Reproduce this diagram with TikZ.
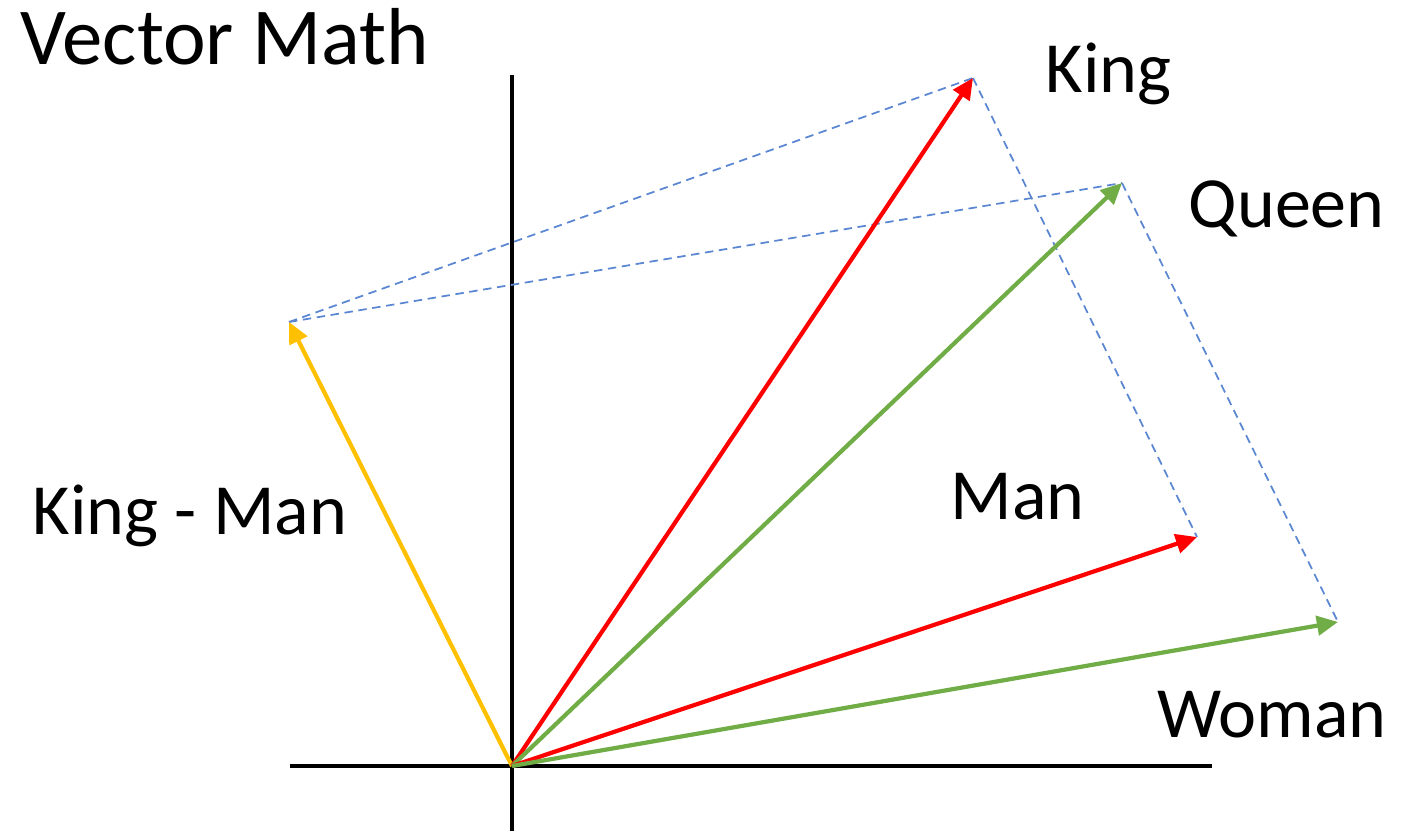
\documentclass[tikz,border=0pt]{standalone}
\usepackage{fontspec}
\setmainfont{Carlito}
\usetikzlibrary{arrows.meta}
\definecolor{vred}{RGB}{255,0,0}
\definecolor{vgreen}{RGB}{112,173,71}
\definecolor{vgold}{RGB}{255,192,0}
\definecolor{vblue}{RGB}{91,135,210}
\tikzset{
	vec/.style = {line width=1.2pt, -{Triangle[length=6pt, width=5.5pt]}},
	proj/.style = {vblue, line width=0.5pt, dash pattern=on 2.4pt off 1.6pt},
	lbl/.style = {inner sep=0pt, anchor=base west, font=\fontsize{20.5}{21}\selectfont}
}
\begin{document}
\begin{tikzpicture}
	\useasboundingbox (0,0) rectangle (14.17,8.31);
	% points
	\coordinate (O) at (5.12,0.65);
	\coordinate (king) at (9.73,7.53);
	\coordinate (queen) at (11.22,6.48);
	\coordinate (man) at (11.97,2.94);
	\coordinate (woman) at (13.38,2.09);
	\coordinate (diff) at (2.89,5.09);
	\coordinate (ytop) at (5.12,7.56);
	\coordinate (ybot) at (5.12,0);
	\coordinate (xleft) at (2.90,0.65);
	\coordinate (xright) at (12.12,0.65);
	% axes
	\draw [line width=1.2pt] (ybot) -- (ytop);
	\draw [line width=1.2pt] (xleft) -- (xright);
	% dashed helpers
	\draw [proj] (diff) -- (king);
	\draw [proj] (diff) -- (queen);
	\draw [proj] (king) -- (man);
	\draw [proj] (queen) -- (woman);
	% vectors
	\draw [vec, vgold] (O) -- (diff);
	\draw [vec, vred] (O) -- (king);
	\draw [vec, vgreen] (O) -- (queen);
	\draw [vec, vred] (O) -- (man);
	\draw [vec, vgreen] (O) -- (woman);
	% labels
	\node [lbl, font=\fontsize{23}{24}\selectfont] (title) at (0.20,7.66) {Vector Math};
	\node [lbl] (kinglbl) at (10.45,7.38) {King};
	\node [lbl] (queenlbl) at (11.88,6.03) {Queen};
	\node [lbl] (manlbl) at (9.50,3.11) {Man};
	\node [lbl] (womanlbl) at (11.57,0.94) {Woman};
	\node [lbl] (difflbl) at (0.32,2.96) {King - Man};
\end{tikzpicture}
\end{document}
